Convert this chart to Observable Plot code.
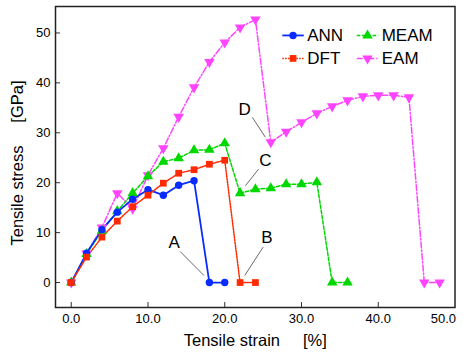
<!DOCTYPE html>
<html>
<head>
<meta charset="utf-8">
<script src="https://cdn.jsdelivr.net/npm/d3@7"></script>
<script src="https://cdn.jsdelivr.net/npm/@observablehq/plot@0.6"></script>
<style>
  html, body { margin: 0; padding: 0; background: #fff; }
  svg { font-family: "Liberation Sans", Arial, sans-serif; }
</style>
</head>
<body>
<div id="chart"></div>
<script>
// ---- data ----
const strainANN  = [0, 2, 4, 6, 8, 10, 12, 14, 16, 18, 20];
const stressANN  = [0, 5.9, 10.6, 14.1, 16.7, 18.6, 17.5, 19.5, 20.4, 0, 0];
const strainDFT  = [0, 2, 4, 6, 8, 10, 12, 14, 16, 18, 20, 22, 24];
const stressDFT  = [0, 5.1, 9.1, 12.3, 15.2, 17.5, 19.9, 21.9, 22.6, 23.7, 24.5, 0, 0];
const strainMEAM = [0, 2, 4, 6, 8, 10, 12, 14, 16, 18, 20, 22, 24, 26, 28, 30, 32, 34, 36];
const stressMEAM = [0, 5.7, 10.4, 14.3, 17.9, 21.3, 24.2, 24.9, 26.5, 26.6, 27.9, 17.9, 18.7, 18.9, 19.7, 19.7, 20.1, 0, 0];
const strainEAM  = [0, 2, 4, 6, 8, 10, 12, 14, 16, 18, 20, 22, 24, 26, 28, 30, 32, 34, 36, 38, 40, 42, 44, 46, 48];
const stressEAM  = [0, 5.8, 11.0, 17.9, 14.8, 21.5, 26.9, 33.2, 39.1, 44.2, 48.1, 51.1, 52.7, 28.1, 30.2, 32.1, 33.9, 35.3, 36.5, 37.3, 37.5, 37.5, 37.1, 0, 0];

const seriesNames = ["ANN", "DFT", "MEAM", "EAM"];
const xTicks = [0, 10, 20, 30, 40, 50];
const yTicks = [0, 10, 20, 30, 40, 50];
const xLabel = "Tensile strain\u00a0\u00a0\u00a0\u00a0\u00a0[%]";
const yLabel = "Tensile stress\u00a0\u00a0\u00a0\u00a0\u00a0[GPa]";

// annotation labels: letter, text position, leader line start/end (data units)
const noteLetters = ["A", "B", "C", "D"];
const noteTextX = [13.4, 25.5, 25.3, 22.6];
const noteTextY = [8.1, 9.1, 24.4, 34.6];
const noteX1 = [14.2, 25.0, 24.4, 23.6];
const noteY1 = [6.2, 7.1, 22.7, 33.1];
const noteX2 = [17.3, 22.6, 22.7, 25.3];
const noteY2 = [1.4, 1.4, 19.4, 29.1];

// ---- styles ----
const style = {
  ANN:  {color: "#0a2bff", dash: null,        width: 1.8, symbol: "circle",   rotate: 0,   r: 3.7},
  DFT:  {color: "#ff2a00", dash: "1.6,1.2",   width: 1.5, symbol: "square",   rotate: 0,   r: 3.8},
  MEAM: {color: "#00d800", dash: "3.5,1.8",   width: 1.5, symbol: "triangle", rotate: 0,   r: 3.9},
  EAM:  {color: "#ff44ff", dash: "6,2,1.5,2", width: 1.5, symbol: "triangle", rotate: 180, r: 3.9}
};

const table = (name, xs, ys) => xs.map((x, i) => ({series: name, strain: x, stress: ys[i]}));
const data = {
  ANN: table("ANN", strainANN, stressANN),
  DFT: table("DFT", strainDFT, stressDFT),
  MEAM: table("MEAM", strainMEAM, stressMEAM),
  EAM: table("EAM", strainEAM, stressEAM)
};
const notes = noteLetters.map((t, i) => ({t, tx: noteTextX[i], ty: noteTextY[i], x1: noteX1[i], y1: noteY1[i], x2: noteX2[i], y2: noteY2[i]}));

// legend layout (data units inside the frame)
const legendCols = {ANN: 0, DFT: 0, MEAM: 1, EAM: 1};
const legendRows = {ANN: 0, MEAM: 0, DFT: 1, EAM: 1};
const legColX = [27.5, 37.2];
const legLineLen = 2.8;
const legRowY = [49.5, 44.9];
const legend = seriesNames.map(n => {
  const x0 = legColX[legendCols[n]], y = legRowY[legendRows[n]];
  return {series: n, x1: x0, x2: x0 + legLineLen, xm: x0 + legLineLen / 2, xt: x0 + legLineLen + 0.45, y};
});

const drawOrder = ["EAM", "MEAM", "ANN", "DFT"];
const marks = [];
for (const n of drawOrder) {
  const s = style[n];
  marks.push(Plot.line(data[n], {x: "strain", y: "stress", stroke: s.color, strokeWidth: s.width, strokeDasharray: s.dash}));
}
for (const n of drawOrder) {
  const s = style[n];
  marks.push(Plot.dot(data[n], {x: "strain", y: "stress", symbol: s.symbol, fill: s.color, stroke: "none", r: s.r, rotate: s.rotate}));
}
// legend
for (const d of legend) {
  const s = style[d.series];
  marks.push(Plot.link([d], {x1: "x1", x2: "x2", y1: "y", y2: "y", stroke: s.color, strokeWidth: s.width, strokeDasharray: s.dash}));
  marks.push(Plot.dot([d], {x: "xm", y: "y", symbol: s.symbol, fill: s.color, stroke: "none", r: s.r, rotate: s.rotate}));
  marks.push(Plot.text([d], {x: "xt", y: "y", text: "series", textAnchor: "start", fontSize: 17, fill: "#000"}));
}
// annotations
marks.push(Plot.link(notes, {x1: "x1", y1: "y1", x2: "x2", y2: "y2", stroke: "#444", strokeWidth: 0.8}));
marks.push(Plot.text(notes, {x: "tx", y: "ty", text: "t", fontSize: 17, fill: "#000"}));

// axes: inward ticks; last x label right-aligned to the frame edge
const fmtX = d3.format(".1f");
marks.push(Plot.axisX(xTicks.slice(0, -1), {tickSize: -5, tickPadding: 11, tickFormat: fmtX, fontSize: 13, label: null, stroke: "#333", fill: "#000"}));
marks.push(Plot.text(xTicks.slice(-1), {x: d => d, text: d => fmtX(d), frameAnchor: "bottom", lineAnchor: "top", dy: 6, dx: 1, textAnchor: "end", fontSize: 13, fill: "#000"}));
marks.push(Plot.axisY(yTicks, {tickSize: -5, tickPadding: 10, tickFormat: d3.format("d"), fontSize: 13, label: null, stroke: "#333", fill: "#000"}));
marks.push(Plot.text([xLabel], {frameAnchor: "bottom", dy: 27, fontSize: 16.5, fill: "#000", lineAnchor: "top", text: d => d}));
marks.push(Plot.text([yLabel], {frameAnchor: "left", textAnchor: "middle", dx: -38, dy: 6, rotate: -90, fontSize: 16.5, fill: "#000", text: d => d}));
marks.push(Plot.frame({stroke: "#222", strokeWidth: 1.5}));

const chart = Plot.plot({
  width: 463,
  height: 356,
  marginLeft: 55,
  marginRight: 8.5,
  marginTop: 6,
  marginBottom: 49,
  style: {fontFamily: '"Liberation Sans", Arial, sans-serif', background: "#fff"},
  x: {domain: [-2.05, 50], axis: null},
  y: {domain: [-5, 55.3], axis: null},
  marks
});
document.getElementById("chart").appendChild(chart);
</script>
</body>
</html>
